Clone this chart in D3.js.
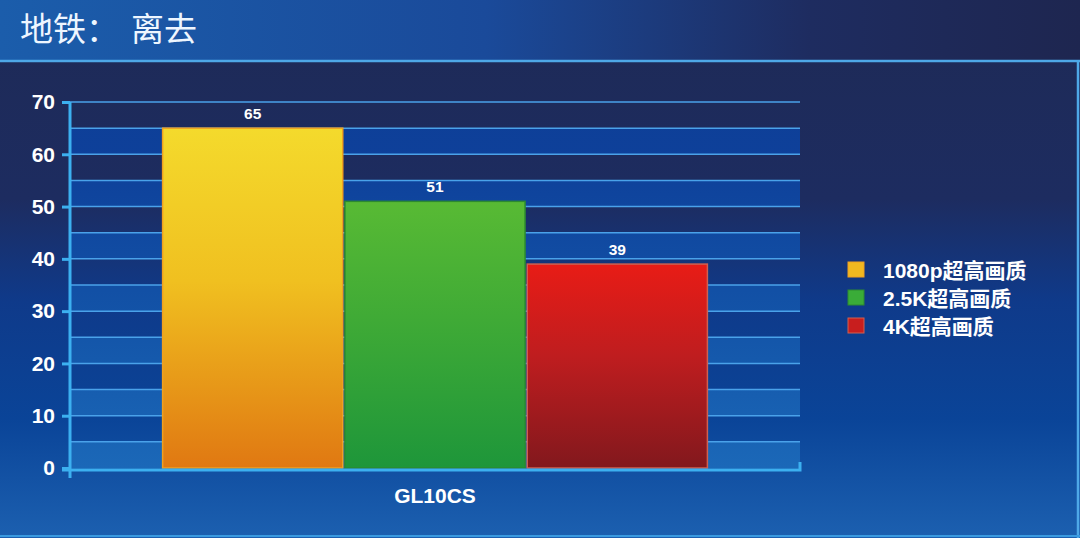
<!DOCTYPE html>
<html lang="zh">
<head>
    <meta charset="UTF-8">
    <title>地铁：离去</title>
    <script src="https://cdn.jsdelivr.net/npm/d3@7/dist/d3.min.js"></script>
    <style type="text/css">
        body { margin: 0; background: #1e2a56; }
        svg { display: block; }
        .tick text { fill: #ffffff; }
    </style>
</head>
<body>
<div id="vis"></div>
<script type="text/javascript">
    // chart data
    const titleParts = ["地铁：", "离去"];
    const categories = ["GL10CS"];
    const seriesNames = ["1080p超高画质", "2.5K超高画质", "4K超高画质"];
    const seriesValues = [65, 51, 39];
    const yTicks = [0, 10, 20, 30, 40, 50, 60, 70];

    const W = 1080, H = 538;
    const margin = {top: 102, left: 70, right: 280, bottom: 70};
    const plotRight = W - margin.right;   // 800
    const plotBottom = H - margin.bottom; // 468

    let svg = d3.select("#vis").append("svg")
        .attr("width", W)
        .attr("height", H);

    let defs = svg.append("defs");

    function linGrad(id, x2, y2, stops, user) {
        let g = defs.append("linearGradient").attr("id", id)
            .attr("x1", 0).attr("y1", 0).attr("x2", x2).attr("y2", y2);
        if (user) g.attr("gradientUnits", "userSpaceOnUse");
        stops.forEach(function (s) {
            g.append("stop").attr("offset", s[0]).attr("stop-color", s[1]);
        });
    }

    linGrad("headerGrad", 1, 0, [[0, "#1b5dab"], [0.45, "#1a4a9a"], [0.75, "#1e2c60"], [1, "#1e2650"]]);
    // panel and band gradients in page coordinates
    linGrad("panelGrad", 0, H, [[0, "#1e2a56"], [0.37, "#1d2c60"], [0.56, "#0f3a8a"], [0.78, "#0a4498"], [1, "#1c60b0"]], true);
    linGrad("bandGrad", 0, H, [[0, "#0d3d92"], [0.3, "#0e409a"], [0.6, "#1354a8"], [0.87, "#1b68b8"], [1, "#1b68b8"]], true);
    // bar gradients, one per series
    const barGrads = [
        ["#f4da2c", "#f0c020", "#e07812"],
        ["#58ba34", "#3faa36", "#1e963a"],
        ["#e81c16", "#bf1d1f", "#82181d"]
    ];
    const barStroke = ["#f0a020", "#2c8a30", "#d06050"];
    const legendFill = ["#f0b820", "#3aac38", "#c81e1e"];
    barGrads.forEach(function (c, i) {
        linGrad("bar" + i, 0, 1, [[0, c[0]], [0.45, c[1]], [1, c[2]]]);
    });

    // backgrounds
    svg.append("rect").attr("x", 0).attr("y", 0).attr("width", W).attr("height", 61)
        .attr("fill", "url(#headerGrad)");
    svg.append("rect").attr("x", 0).attr("y", 61).attr("width", W).attr("height", H - 61)
        .attr("fill", "url(#panelGrad)");
    svg.append("line").attr("x1", 0).attr("x2", W).attr("y1", 61).attr("y2", 61)
        .attr("stroke", "#4ea8e8").attr("stroke-width", 2.5);
    svg.append("line").attr("x1", W - 2).attr("x2", W - 2).attr("y1", 61).attr("y2", H)
        .attr("stroke", "#4ea8e8").attr("stroke-width", 2.5);
    svg.append("line").attr("x1", 0).attr("x2", W).attr("y1", H - 2).attr("y2", H - 2)
        .attr("stroke", "#3a9ae0").attr("stroke-width", 2);

    let titleText = svg.append("text")
        .attr("x", 20).attr("y", 41)
        .attr("fill", "#eef6ff")
        .attr("font-family", "'Noto Sans CJK SC', sans-serif")
        .attr("font-size", 33);
    titleText.append("tspan").text(titleParts[0]);
    titleText.append("tspan").attr("dx", 12).text(titleParts[1]);

    // scales
    let yScale = d3.scaleLinear().domain([0, 70]).range([plotBottom, margin.top]);
    let x0 = d3.scaleBand().domain(categories).range([margin.left, plotRight])
        .paddingInner(0).paddingOuter(0.17);
    let x1 = d3.scaleBand().domain(seriesNames).range([0, x0.bandwidth()]).paddingInner(0.012);

    let plot = svg.append("g");

    // alternating bands
    let bandStarts = d3.range(0, 70, 10);
    plot.selectAll(".band").data(bandStarts).enter().append("rect")
        .attr("class", "band")
        .attr("x", margin.left)
        .attr("width", plotRight - margin.left)
        .attr("y", function (d) { return yScale(d + 5); })
        .attr("height", function (d) { return yScale(d) - yScale(d + 5); })
        .attr("fill", "url(#bandGrad)");

    // gridlines every 5
    plot.selectAll(".grid").data(d3.range(5, 75, 5)).enter().append("line")
        .attr("class", "grid")
        .attr("x1", margin.left).attr("x2", plotRight)
        .attr("y1", function (d) { return yScale(d); })
        .attr("y2", function (d) { return yScale(d); })
        .attr("stroke", "#4aa2ea").attr("stroke-width", 1.5);

    // bars
    let groups = plot.selectAll(".grp").data(categories).enter().append("g")
        .attr("transform", function (d) { return "translate(" + x0(d) + ",0)"; });

    groups.selectAll("rect.bar").data(seriesNames).enter().append("rect")
        .attr("class", "bar")
        .attr("x", function (d) { return x1(d); })
        .attr("width", x1.bandwidth())
        .attr("y", function (d, i) { return yScale(seriesValues[i]); })
        .attr("height", function (d, i) { return yScale(0) - yScale(seriesValues[i]); })
        .attr("fill", function (d, i) { return "url(#bar" + i + ")"; })
        .attr("stroke", function (d, i) { return barStroke[i]; })
        .attr("stroke-width", 1.5);

    groups.selectAll("text.val").data(seriesNames).enter().append("text")
        .attr("class", "val")
        .attr("x", function (d) { return x1(d) + x1.bandwidth() / 2; })
        .attr("y", function (d, i) { return yScale(seriesValues[i]) - 9; })
        .attr("text-anchor", "middle")
        .attr("fill", "#ffffff")
        .attr("font-family", "'Liberation Sans', Arial, sans-serif")
        .attr("font-weight", "bold")
        .attr("font-size", 15.5)
        .text(function (d, i) { return seriesValues[i]; });

    // axes
    let yAxis = svg.append("g")
        .attr("transform", "translate(" + margin.left + ",0)")
        .call(d3.axisLeft(yScale).tickValues(yTicks).tickSize(8).tickSizeOuter(0).tickPadding(7));
    yAxis.select(".domain").attr("stroke", "#3cb0f0").attr("stroke-width", 3)
        .attr("d", "M0," + margin.top + "V" + (plotBottom + 10));
    yAxis.selectAll(".tick line").attr("stroke", "#3cb0f0").attr("stroke-width", 3);
    yAxis.selectAll(".tick text")
        .attr("font-family", "'Liberation Sans', Arial, sans-serif")
        .attr("font-weight", "bold")
        .attr("font-size", 21);

    let xAxis = svg.append("g")
        .attr("transform", "translate(0," + (plotBottom + 2) + ")")
        .call(d3.axisBottom(x0).tickSizeInner(0).tickSizeOuter(-8).tickPadding(18));
    xAxis.select(".domain").attr("stroke", "#3cb0f0").attr("stroke-width", 3)
        .attr("d", "M" + (margin.left - 8) + ",0H" + plotRight + "V-8");
    xAxis.selectAll(".tick text")
        .attr("font-family", "'Liberation Sans', Arial, sans-serif")
        .attr("font-weight", "bold")
        .attr("font-size", 21);

    // legend
    let legend = svg.append("g").attr("transform", "translate(848,262)");
    let items = legend.selectAll(".item").data(seriesNames).enter().append("g")
        .attr("transform", function (d, i) { return "translate(0," + (i * 28) + ")"; });
    items.append("rect")
        .attr("width", 16).attr("height", 15)
        .attr("fill", function (d, i) { return legendFill[i]; })
        .attr("stroke", function (d, i) { return barStroke[i]; });
    items.append("text")
        .attr("x", 35).attr("y", 16)
        .attr("fill", "#ffffff")
        .attr("font-family", "'Liberation Sans', 'Noto Sans CJK SC', sans-serif")
        .attr("font-weight", "bold")
        .attr("font-size", 21)
        .text(function (d) { return d; });
</script>
</body>
</html>
